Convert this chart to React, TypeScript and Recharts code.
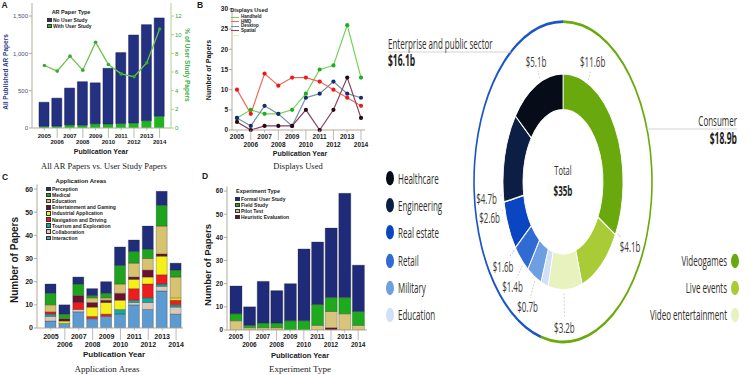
import React from 'react';
import { ComposedChart, BarChart, LineChart, PieChart, Pie, Cell, Bar, Line, XAxis, YAxis } from 'recharts';

const SANS = '"Liberation Sans", Arial, Helvetica, sans-serif';
const SERIF = '"Liberation Serif", "Times New Roman", serif';
const OPEN = '"Open Sans", "Noto Sans", sans-serif';

// ---------- data ----------
const years = ['2005', '2006', '2007', '2008', '2009', '2010', '2011', '2012', '2013', '2014'];

// A: All AR papers vs user study papers
const noUserStudy = [322, 376, 494, 582, 549, 746, 951, 1177, 1288, 1319];
const withUserStudy = [23, 24, 41, 38, 56, 54, 59, 68, 97, 156];
const pctUserStudy = [6.7, 6.1, 7.7, 6.2, 9.2, 6.8, 5.8, 5.5, 7.0, 10.6];
const leftTicksA = [0, 500, 1000, 1500];
const rightTicksA = [0, 2, 4, 6, 8, 10, 12];

// B: displays used
const handheld = [3, 5, 4, 4, 5, 9, 15, 16, 26, 13];
const hmd = [10, 4, 14, 11, 13, 13, 12, 10, 8, 6];
const desktop = [3, 1, 6, 4, 1, 8, 9, 12, 9, 8];
const spatial = [2, 0, 1, 1, 1, 5, 0, 5, 13, 3];
const ticksB = [0, 5, 10, 15, 20, 25, 30];

// C: application areas
const perception = [4, 4, 3, 3, 5, 8, 5, 10, 6, 3];
const medical = [5, 2, 5, 1, 2, 8, 5, 4, 9, 3];
const education = [3, 0, 0, 2, 1, 4, 6, 5, 12, 9];
const entertainment = [0, 1, 3, 2, 1, 3, 1, 3, 1, 0];
const industrial = [0, 1, 0, 4, 5, 4, 4, 3, 8, 1];
const navigation = [1, 0, 3, 1, 1, 0, 5, 6, 4, 2];
const tourism = [1, 0, 0, 0, 0, 2, 1, 2, 1, 1];
const collaboration = [2, 0, 1, 0, 0, 0, 1, 3, 2, 3];
const interaction = [3, 2, 7, 4, 5, 6, 10, 8, 16, 6];
const ticksCD = [0, 10, 20, 30, 40, 50, 60];

// D: experiment type
const formalStudy = [12, 8, 18, 14, 16, 31, 27, 30, 45, 20];
const fieldStudy = [3, 1, 2, 2, 4, 4, 9, 6, 7, 6];
const pilotTest = [4, 1, 1, 1, 0, 0, 2, 7, 7, 2];
const heuristicEval = [0, 0, 0, 0, 0, 0, 0, 1, 0, 0];

// E: donut
const segmentNames = ['Videogames', 'Live events', 'Video entertainment', 'Education', 'Military', 'Retail', 'Real estate', 'Engineering', 'Healthcare'];
const segmentValues = [11.6, 4.1, 3.2, 0.7, 1.4, 1.6, 2.6, 4.7, 5.1];
const segmentColors = ['#6aa90d', '#a8cb36', '#e7f2bf', '#cfe0f7', '#6e9fe1', '#2f6bd2', '#0a46c2', '#0c1e44', '#060d19'];
const sectorNames = ['Consumer', 'Enterprise and public sector'];
const sectorValues = [18.9, 16.1];
const sectorColors = ['#6aaa0a', '#1a55c8'];
const totalLabel = '$35b';

// ---------- tables ----------
const dataA = years.map((y, i) => ({ year: y, no: noUserStudy[i], with: withUserStudy[i], pct: pctUserStudy[i] }));
const dataB = years.map((y, i) => ({ year: y, handheld: handheld[i], hmd: hmd[i], desktop: desktop[i], spatial: spatial[i] }));
const dataC = years.map((y, i) => ({
  year: y, perception: perception[i], medical: medical[i], education: education[i], entertainment: entertainment[i],
  industrial: industrial[i], navigation: navigation[i], tourism: tourism[i], collaboration: collaboration[i], interaction: interaction[i],
}));
const dataD = years.map((y, i) => ({ year: y, formal: formalStudy[i], field: fieldStudy[i], pilot: pilotTest[i], heuristic: heuristicEval[i] }));
const innerData = segmentNames.map((n, i) => ({ name: n, value: segmentValues[i] }));
const outerData = sectorNames.map((n, i) => ({ name: n, value: sectorValues[i] }));

const seriesC = [
  { key: 'interaction', label: 'Interaction', color: '#5b9bd2' },
  { key: 'collaboration', label: 'Collaboration', color: '#dcc9bd' },
  { key: 'tourism', label: 'Tourism and Exploration', color: '#17a69b' },
  { key: 'navigation', label: 'Navigation and Driving', color: '#ee1c1c' },
  { key: 'industrial', label: 'Industrial Application', color: '#f6f01a' },
  { key: 'entertainment', label: 'Entertainment and Gaming', color: '#6b1030' },
  { key: 'education', label: 'Education', color: '#d7c26f' },
  { key: 'medical', label: 'Medical', color: '#1ea31e' },
  { key: 'perception', label: 'Perception', color: '#1f2d7a' },
];
const seriesD = [
  { key: 'heuristic', label: 'Heuristic Evaluation', color: '#6a0f30' },
  { key: 'pilot', label: 'Pilot Test', color: '#d8c47a' },
  { key: 'field', label: 'Field Study', color: '#1daa1d' },
  { key: 'formal', label: 'Formal User Study', color: '#1f2a78' },
];
const seriesB = [
  { key: 'handheld', label: 'Handheld', line: '#74d25a', dot: '#1fae1f' },
  { key: 'hmd', label: 'HMD', line: '#ef6a55', dot: '#ee1a1a' },
  { key: 'desktop', label: 'Desktop', line: '#7090a8', dot: '#1c2a6c' },
  { key: 'spatial', label: 'Spatial', line: '#8a3f62', dot: '#2a0818' },
];

// ---------- helpers ----------
type TP = {
  x: number; y: number; size: number; children: React.ReactNode; bold?: boolean; color?: string;
  anchor?: 'start' | 'middle' | 'end'; family?: string; rotate?: number;
};
const Txt = ({ x, y, size, children, bold, color = '#1a1a1a', anchor = 'middle', family = SANS, rotate = 0 }: TP) => {
  const tx = anchor === 'start' ? '0%' : anchor === 'end' ? '-100%' : '-50%';
  return (
    <div
      style={{
        position: 'absolute', left: x, top: y, whiteSpace: 'nowrap', lineHeight: 1, fontSize: size,
        fontWeight: bold ? 'bold' : 'normal', color, fontFamily: family,
        transform: `translate(${tx},-50%)${rotate ? ` rotate(${rotate}deg)` : ''}`,
      }}
    >
      {children}
    </div>
  );
};

const makeStaggerTick = (fs: number, off1: number, off2: number) => (props: any) => {
  const { x, y, payload, index } = props;
  const low = index % 2 === 1;
  return (
    <g>
      <line x1={x} x2={x} y1={y} y2={y + (low ? off2 - 4 : 2.5)} stroke="#a8a8a8" strokeWidth={0.8} />
      <text x={x} y={y + (low ? off2 : off1)} textAnchor="middle" dominantBaseline="central" fontSize={fs}
        fontWeight="bold" fill="#1a1a1a" fontFamily={SANS}>
        {payload.value}
      </text>
    </g>
  );
};

const SquareLegend = ({ x, y0, dy, items, size, sw }: { x: number; y0: number; dy: number; items: { label: string; color: string }[]; size: number; sw: number }) => (
  <>
    {items.map((it, i) => (
      <React.Fragment key={i}>
        <div style={{
          position: 'absolute', left: x, top: y0 + i * dy - sw / 2, width: sw, height: sw, background: it.color,
          border: '0.5px solid #333', boxSizing: 'border-box',
        }} />
        <Txt x={x + sw + 1.5} y={y0 + i * dy} size={size} bold anchor="start">{it.label}</Txt>
      </React.Fragment>
    ))}
  </>
);

const AXIS = '#b3ab9c';

// ---------- donut layout ----------
const SY = 1.8; // vertical stretch of the infographic
const CX = 188;
const CY = 101;
const RING_R = 89;
// label placement (clockwise angle from top, radius) per inner segment
const labelSpots: [number, number][] = [[24, 73], [118, 76], [179, 81], [207, 78], [221, 77], [232, 76], [255, 76], [263, 77], [338, 72]];
const RAD = Math.PI / 180;

const renderSegLabel = (p: any) => {
  const idx = p.index as number;
  const [ang, r] = labelSpots[idx];
  const sx = Math.sin(ang * RAD);
  const cy = -Math.cos(ang * RAD);
  const x = CX + r * sx;
  const y = CY + r * cy;
  const t = Math.min(12 / Math.max(Math.abs(sx), 1e-3), 4.2 / Math.max(Math.abs(cy), 1e-3));
  const r1 = r - t - 1;
  const r0 = 62;
  return (
    <g key={`lab-${idx}`}>
      {r1 > r0 && (
        <line x1={CX + r0 * sx} y1={CY + r0 * cy} x2={CX + r1 * sx} y2={CY + r1 * cy} stroke="#bbb" strokeWidth={0.7} strokeDasharray="1 1" />
      )}
      <text x={x} y={y} textAnchor="middle" dominantBaseline="central" fontSize={8} fill="#3a3a32" fontFamily={OPEN}>
        {`$${segmentValues[idx]}b`}
      </text>
    </g>
  );
};

const legendLeft = [8, 7, 6, 5, 4, 3];
const legendLeftY = [98.9, 114.4, 129.4, 145, 160, 175];
const legendRight = [0, 1, 2];
const legendRightY = [145, 160, 175];

export default function App() {
  const tickA = makeStaggerTick(6, 8, 14);
  const tickB = makeStaggerTick(6.5, 6.5, 14);
  const tickC = makeStaggerTick(7, 8, 16);
  const tickD = makeStaggerTick(6.5, 6.5, 14.5);

  const entY = 28.9;
  const entX = CX - Math.sqrt(RING_R * RING_R - (entY - CY) * (entY - CY));
  const conY = 71.7;
  const conX = CX + Math.sqrt(RING_R * RING_R - (conY - CY) * (conY - CY));

  return (
    <div style={{ position: 'absolute', left: 0, top: 0, width: 750, height: 375, background: '#fff', overflow: 'hidden', fontFamily: SANS }}>
      {/* ================= Panel A ================= */}
      <div style={{ position: 'absolute', left: 0, top: 0 }}>
        <ComposedChart width={190} height={180} data={dataA} margin={{ top: 3, right: 0, bottom: 32, left: 0 }}>
          <XAxis dataKey="year" height={20} interval={0} tickSize={0} tickMargin={0} tickLine={false}
            tick={tickA} padding={{ left: 6, right: 5 }} stroke={AXIS} />
          <YAxis yAxisId="l" width={32} domain={[0, 1675]} ticks={leftTicksA} allowDataOverflow
            tickFormatter={(v: number) => v.toLocaleString('en-US')} tickSize={3} tickMargin={1}
            tick={{ fontSize: 6, fill: '#4a5178', fontFamily: SANS }} stroke={AXIS} />
          <YAxis yAxisId="r" orientation="right" width={19} domain={[0, 13.4]} ticks={rightTicksA} allowDataOverflow
            tickSize={3} tickMargin={1} tick={{ fontSize: 6, fill: '#3aa53a', fontFamily: SANS }} stroke="#a9d49a" />
          <Bar yAxisId="l" dataKey="with" stackId="s" fill="#21b321" barSize={10} isAnimationActive={false} />
          <Bar yAxisId="l" dataKey="no" stackId="s" fill="#243080" stroke="#141d58" strokeWidth={0.5} barSize={10} isAnimationActive={false} />
          <Line yAxisId="r" dataKey="pct" type="linear" stroke="#6cc24a" strokeWidth={1.3}
            dot={{ r: 1.8, fill: '#35ab35', stroke: 'none' }} isAnimationActive={false} />
        </ComposedChart>
      </div>
      <Txt x={4.5} y={5} size={8.5} bold>A</Txt>
      <Txt x={6} y={72} size={6.5} bold color="#2b3a8c" rotate={-90}>All Published AR Papers</Txt>
      <Txt x={187} y={65} size={6.5} bold color="#44b044" rotate={90}>% of User Study Papers</Txt>
      <Txt x={101} y={151} size={7} bold>Publication Year</Txt>
      <Txt x={104} y={166} size={8.5} family={SERIF}>All AR Papers vs. User Study Papers</Txt>
      <Txt x={71} y={13} size={5.5} bold>AR Paper Type</Txt>
      <SquareLegend x={47} y0={20} dy={6} size={5} sw={4.5}
        items={[{ label: 'No User Study', color: '#243080' }, { label: 'With User Study', color: '#21b321' }]} />

      {/* ================= Panel B ================= */}
      <div style={{ position: 'absolute', left: 185, top: 0 }}>
        <LineChart width={190} height={180} data={dataB} margin={{ top: 9, right: 10, bottom: 30, left: 0 }}>
          <XAxis dataKey="year" scale="point" height={20} interval={0} tickSize={0} tickMargin={0} tickLine={false}
            tick={tickB} padding={{ left: 5, right: 4 }} stroke={AXIS} />
          <YAxis width={47} domain={[0, 30]} ticks={ticksB} tickSize={3} tickMargin={1}
            tick={{ fontSize: 6.5, fill: '#1a1a1a', fontWeight: 'bold', fontFamily: SANS }} stroke={AXIS} />
          {seriesB.map((s) => (
            <Line key={s.key} dataKey={s.key} type="linear" stroke={s.line} strokeWidth={1.2}
              dot={{ r: 2.1, fill: s.dot, stroke: 'none' }} isAnimationActive={false} />
          ))}
        </LineChart>
      </div>
      <Txt x={200} y={5} size={8.5} bold>B</Txt>
      <Txt x={208} y={70} size={7} bold rotate={-90}>Number of Papers</Txt>
      <Txt x={300} y={153} size={7} bold>Publication Year</Txt>
      <Txt x={298} y={166} size={8.5} family={SERIF}>Displays Used</Txt>
      <Txt x={249} y={11} size={5.5} bold>Displays Used</Txt>
      {[...seriesB.map((s) => ({ label: s.label, color: s.line })), { label: '', color: '#efe6b4' }].map((it, i) => (
        <React.Fragment key={i}>
          <div style={{ position: 'absolute', left: 231, top: 17 + i * 4.5 - 0.5, width: 8, height: 1, background: it.color }} />
          <Txt x={241} y={17 + i * 4.5} size={4.5} bold anchor="start">{it.label}</Txt>
        </React.Fragment>
      ))}

      {/* ================= Panel C ================= */}
      <div style={{ position: 'absolute', left: 0, top: 180 }}>
        <BarChart width={190} height={195} data={dataC} margin={{ top: 4.4, right: 7, bottom: 27, left: 0 }}>
          <XAxis dataKey="year" height={20} interval={0} tickSize={0} tickMargin={0} tickLine={false}
            tick={tickC} padding={{ left: 7, right: 0 }} stroke={AXIS} />
          <YAxis width={37} domain={[0, 62]} ticks={ticksCD} allowDataOverflow tickSize={3} tickMargin={1}
            tick={{ fontSize: 7, fill: '#1a1a1a', fontWeight: 'bold', fontFamily: SANS }} stroke={AXIS} />
          {seriesC.map((s) => (
            <Bar key={s.key} dataKey={s.key} stackId="c" fill={s.color} stroke="#2a2a2a" strokeWidth={0.3}
              barSize={11} isAnimationActive={false} />
          ))}
        </BarChart>
      </div>
      <Txt x={5} y={177} size={8.5} bold>C</Txt>
      <Txt x={15} y={260} size={10} bold rotate={-90}>Number of Papers</Txt>
      <Txt x={114} y={355} size={8} bold>Publication Year</Txt>
      <Txt x={107} y={369} size={9} family={SERIF}>Application Areas</Txt>
      <Txt x={81} y={181} size={6} bold>Application Areas</Txt>
      <SquareLegend x={46} y0={189} dy={6.1} size={5} sw={4.5}
        items={[...seriesC].reverse().map((s) => ({ label: s.label, color: s.color }))} />

      {/* ================= Panel D ================= */}
      <div style={{ position: 'absolute', left: 185, top: 180 }}>
        <BarChart width={190} height={195} data={dataD} margin={{ top: 6.4, right: 8, bottom: 25, left: 0 }}>
          <XAxis dataKey="year" height={20} interval={0} tickSize={0} tickMargin={0} tickLine={false}
            tick={tickD} padding={{ left: 2, right: 2 }} stroke={AXIS} />
          <YAxis width={42} domain={[0, 62]} ticks={ticksCD} allowDataOverflow tickSize={3} tickMargin={1}
            tick={{ fontSize: 6.5, fill: '#1a1a1a', fontWeight: 'bold', fontFamily: SANS }} stroke={AXIS} />
          {seriesD.map((s) => (
            <Bar key={s.key} dataKey={s.key} stackId="d" fill={s.color} stroke="#2a2a2a" strokeWidth={0.3}
              barSize={12} isAnimationActive={false} />
          ))}
        </BarChart>
      </div>
      <Txt x={205} y={176} size={8.5} bold>D</Txt>
      <Txt x={208} y={265} size={9.5} bold rotate={-90}>Number of Papers</Txt>
      <Txt x={300} y={356} size={7.5} bold>Publication Year</Txt>
      <Txt x={300} y={369} size={9} family={SERIF}>Experiment Type</Txt>
      <Txt x={258} y={192} size={5.5} bold>Experiment Type</Txt>
      <SquareLegend x={235} y0={199} dy={6} size={5} sw={4.5}
        items={[...seriesD].reverse().map((s) => ({ label: s.label, color: s.color }))} />

      {/* ================= Panel E (donut, stretched vertically) ================= */}
      <div style={{
        position: 'absolute', left: 375, top: 0, width: 375, height: 375 / SY,
        transform: `scaleY(${SY})`, transformOrigin: '0 0',
      }}>
        <div style={{ position: 'absolute', left: 0, top: 0 }}>
          <PieChart width={375} height={375 / SY} margin={{ top: 0, right: 0, bottom: 0, left: 0 }}>
            <Pie data={outerData} dataKey="value" nameKey="name" cx={CX} cy={CY} innerRadius={RING_R - 0.8}
              outerRadius={RING_R + 0.8} startAngle={90} endAngle={-270} stroke="none" isAnimationActive={false}>
              {outerData.map((d, i) => <Cell key={d.name} fill={sectorColors[i]} />)}
            </Pie>
            <Pie data={innerData} dataKey="value" nameKey="name" cx={CX} cy={CY} innerRadius={40} outerRadius={60}
              startAngle={90} endAngle={-270} stroke="#fff" strokeWidth={0.8} isAnimationActive={false}
              label={renderSegLabel} labelLine={false}>
              {innerData.map((d, i) => <Cell key={d.name} fill={segmentColors[i]} />)}
            </Pie>
          </PieChart>
        </div>
        <svg width={375} height={375 / SY} style={{ position: 'absolute', left: 0, top: 0 }}>
          <line x1={13} x2={entX} y1={entY} y2={entY} stroke="#d4d4d4" strokeWidth={0.6} />
          <line x1={conX} x2={362} y1={conY} y2={conY} stroke="#d4d4d4" strokeWidth={0.6} />
        </svg>
        <Txt x={13} y={23.9} size={8} anchor="start" family={OPEN} color="#2e2e28">{sectorNames[1]}</Txt>
        <Txt x={13} y={34.4} size={8.5} bold anchor="start" family={OPEN} color="#1e1e1a">{`$${sectorValues[1]}b`}</Txt>
        <Txt x={362} y={66.7} size={8} anchor="end" family={OPEN} color="#2e2e28">{sectorNames[0]}</Txt>
        <Txt x={362} y={77.2} size={8.5} bold anchor="end" family={OPEN} color="#1e1e1a">{`$${sectorValues[0]}b`}</Txt>
        <Txt x={CX} y={94.9} size={7.5} family={OPEN} color="#2e2e28">Total</Txt>
        <Txt x={CX} y={106.4} size={8} bold family={OPEN} color="#1e1e1a">{totalLabel}</Txt>
        {legendLeft.map((si, k) => (
          <React.Fragment key={`ll${si}`}>
            <div style={{ position: 'absolute', left: 11, top: legendLeftY[k] - 4, width: 8, height: 8, borderRadius: '50%', background: segmentColors[si] }} />
            <Txt x={23} y={legendLeftY[k]} size={8} anchor="start" family={OPEN} color="#2e2e28">{segmentNames[si]}</Txt>
          </React.Fragment>
        ))}
        {legendRight.map((si, k) => (
          <React.Fragment key={`lr${si}`}>
            <div style={{ position: 'absolute', left: 356, top: legendRightY[k] - 4, width: 8, height: 8, borderRadius: '50%', background: segmentColors[si] }} />
            <Txt x={352} y={legendRightY[k]} size={8} anchor="end" family={OPEN} color="#2e2e28">{segmentNames[si]}</Txt>
          </React.Fragment>
        ))}
      </div>
    </div>
  );
}
